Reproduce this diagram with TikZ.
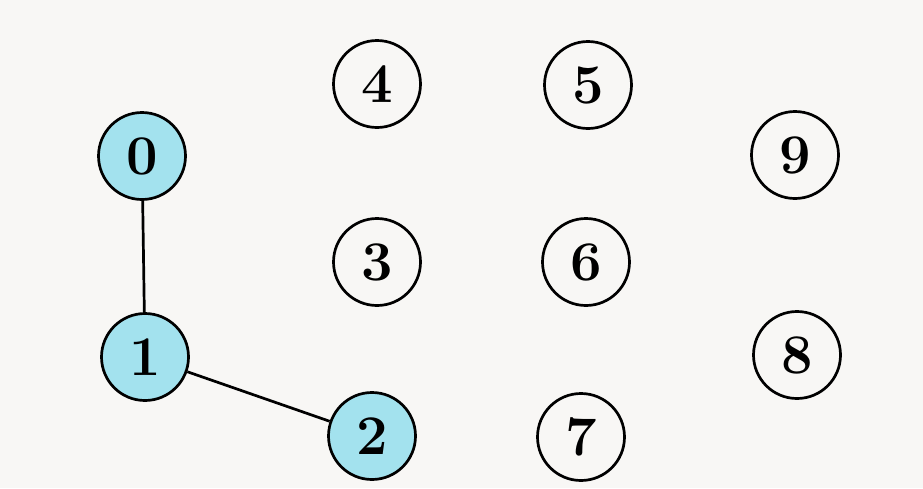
\documentclass[tikz,border=0pt]{standalone}
\definecolor{bg}{HTML}{F8F7F5}
\definecolor{visited}{HTML}{A3E2EE}
\begin{document}
\begin{tikzpicture}[x=1pt,y=-1pt,
  vtx/.style={circle,draw=black,line width=2.7pt,minimum size=87pt,inner sep=0pt,font=\fontsize{56}{64}\selectfont\bfseries},
  seen/.style={vtx,fill=visited},
  edge/.style={line width=2.7pt}]
\fill[bg] (0,0) rectangle (923,488);
\useasboundingbox (0,0) rectangle (923,488);
\node[seen] (n0) at (142,156) {0};
\node[seen] (n1) at (145,357) {1};
\node[seen] (n2) at (372,436) {2};
\node[vtx] (n3) at (377,262) {3};
\node[vtx] (n4) at (377,84) {4};
\node[vtx] (n5) at (588,85) {5};
\node[vtx] (n6) at (586,262) {6};
\node[vtx] (n7) at (581,437) {7};
\node[vtx] (n8) at (797,355) {8};
\node[vtx] (n9) at (795,155) {9};
\draw[edge] (n0) -- (n1);
\draw[edge] (n1) -- (n2);
\end{tikzpicture}
\end{document}
